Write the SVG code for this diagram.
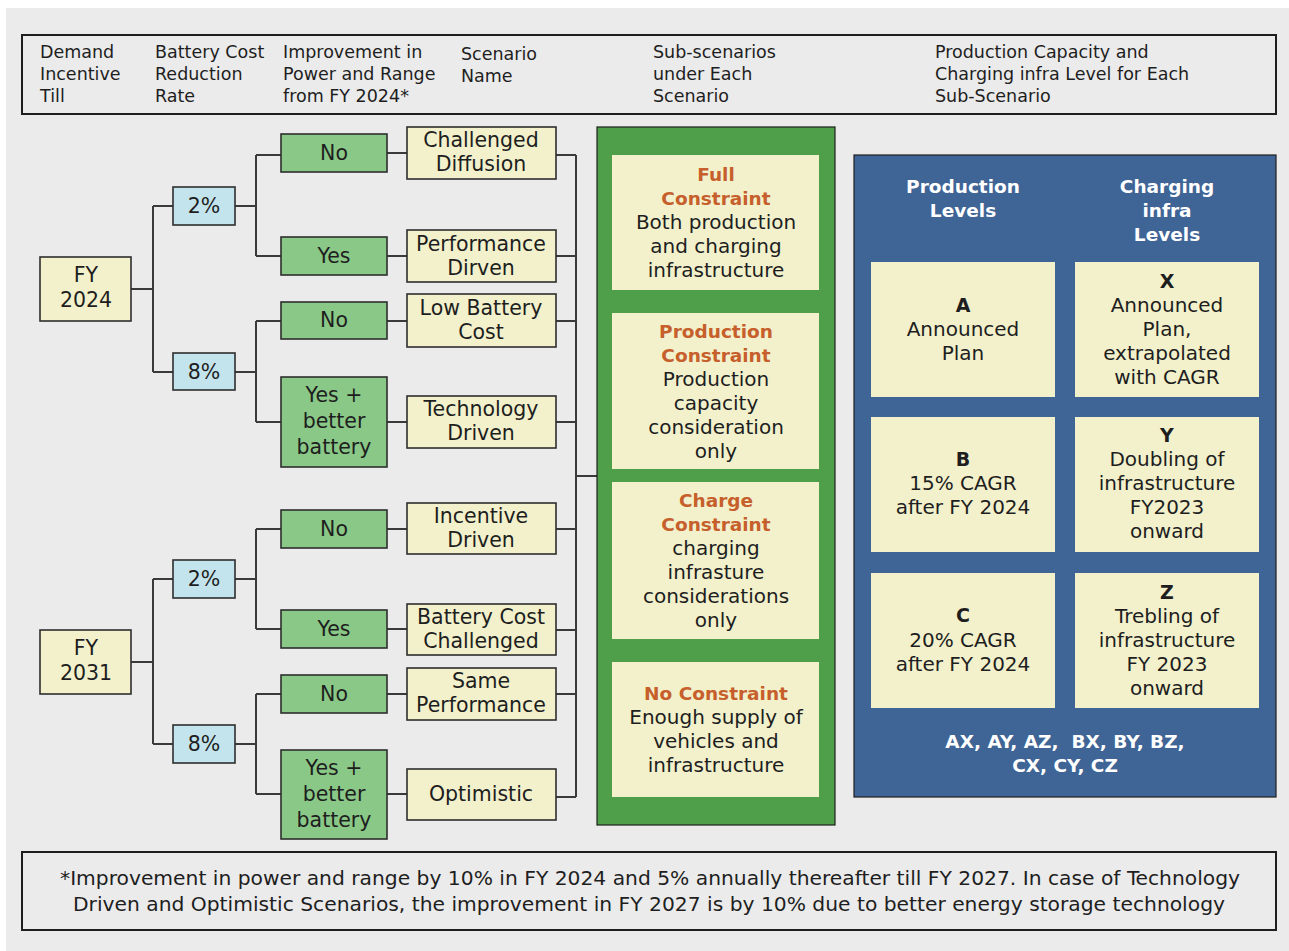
<svg xmlns="http://www.w3.org/2000/svg" width="1289" height="951" viewBox="0 0 1289 951">
<style>
text{font-family:"DejaVu Sans","Liberation Sans",sans-serif;fill:#1e1e1e}
.hd{font-size:17.5px}
.t{font-size:20.5px;text-anchor:middle}
.p{font-size:20px;text-anchor:middle}
.o{font-size:18.5px;text-anchor:middle;font-weight:bold;fill:#c65f2b}
.w{font-size:18.5px;text-anchor:middle;font-weight:bold;fill:#ffffff}
.b{font-weight:bold;font-size:19px}
.fy{fill:#f2f1cc;stroke:#2e2e2e;stroke-width:1.6}
.bl{fill:#c3e4ec;stroke:#2e2e2e;stroke-width:1.6}
.gr{fill:#8ac887;stroke:#2e2e2e;stroke-width:1.6}
.sc{fill:#f2f1cc;stroke:#2e2e2e;stroke-width:1.6}
.in{fill:#f2f1cc}
.frame{fill:none;stroke:#1e1e1e;stroke-width:2}
.ft{font-family:"DejaVu Sans Condensed","DejaVu Sans",sans-serif;font-size:19px;text-anchor:middle}
</style>
<rect x="6" y="8" width="1283" height="943" fill="#ebebeb"/>
<g id="header">
<rect class="frame" x="22" y="35" width="1254" height="79"/>
<text class="hd"><tspan x="40" y="58">Demand</tspan><tspan x="40" y="80">Incentive</tspan><tspan x="40" y="102">Till</tspan></text>
<text class="hd"><tspan x="155" y="58">Battery Cost</tspan><tspan x="155" y="80">Reduction</tspan><tspan x="155" y="102">Rate</tspan></text>
<text class="hd"><tspan x="283" y="58">Improvement in</tspan><tspan x="283" y="80">Power and Range</tspan><tspan x="283" y="102">from FY 2024*</tspan></text>
<text class="hd"><tspan x="461" y="60">Scenario</tspan><tspan x="461" y="82">Name</tspan></text>
<text class="hd"><tspan x="653" y="58">Sub-scenarios</tspan><tspan x="653" y="80">under Each</tspan><tspan x="653" y="102">Scenario</tspan></text>
<text class="hd"><tspan x="935" y="58">Production Capacity and</tspan><tspan x="935" y="80">Charging infra Level for Each</tspan><tspan x="935" y="102">Sub-Scenario</tspan></text>
</g>
<g id="connectors" fill="none" stroke="#3a3a3a" stroke-width="2">
<path d="M131,289H153M153,206V372M153,206H173M153,372H173"/>
<path d="M235,206H256M256,155V256M256,155H281M256,256H281"/>
<path d="M235,372H256M256,321V422M256,321H281M256,422H281"/>
<path d="M387,153H407M387,256H407M387,321H407M387,422H407"/>
<path d="M556,155H576M556,256H576M556,321H576M556,422H576"/>
<path d="M131,662H153M153,579V744M153,579H173M153,744H173"/>
<path d="M235,579H256M256,529V629M256,529H281M256,629H281"/>
<path d="M235,744H256M256,694V794M256,694H281M256,794H281"/>
<path d="M387,529H407M387,629H407M387,694H407M387,794H407"/>
<path d="M556,529H576M556,630H576M556,694H576M556,797H576"/>
<path d="M576,155V797M576,476H597"/>
</g>
<g id="fy2024"><rect class="fy" x="40" y="257" width="91" height="64"/><text class="t"><tspan x="86" y="282">FY</tspan><tspan x="86" y="307">2024</tspan></text></g>
<g id="r2a"><rect class="bl" x="173" y="187" width="62" height="38"/><text class="t" x="204" y="213">2%</text></g>
<g id="r8a"><rect class="bl" x="173" y="353" width="62" height="37"/><text class="t" x="204" y="379">8%</text></g>
<g id="noA"><rect class="gr" x="281" y="134" width="106" height="38"/><text class="t" x="334" y="160">No</text></g>
<g id="yesA"><rect class="gr" x="281" y="237" width="106" height="38"/><text class="t" x="334" y="263">Yes</text></g>
<g id="noB"><rect class="gr" x="281" y="302" width="106" height="37"/><text class="t" x="334" y="327">No</text></g>
<g id="ybbA"><rect class="gr" x="281" y="377" width="106" height="90"/><text class="t"><tspan x="334" y="402">Yes +</tspan><tspan x="334" y="428">better</tspan><tspan x="334" y="454">battery</tspan></text></g>
<g id="sc-cd"><rect class="sc" x="407" y="127" width="149" height="52"/><text class="t"><tspan x="481" y="147">Challenged</tspan><tspan x="481" y="171">Diffusion</tspan></text></g>
<g id="sc-pd"><rect class="sc" x="407" y="230" width="149" height="52"/><text class="t"><tspan x="481" y="251">Performance</tspan><tspan x="481" y="275">Dirven</tspan></text></g>
<g id="sc-lbc"><rect class="sc" x="407" y="294" width="149" height="53"/><text class="t"><tspan x="481" y="315">Low Battery</tspan><tspan x="481" y="339">Cost</tspan></text></g>
<g id="sc-td"><rect class="sc" x="407" y="396" width="149" height="52"/><text class="t"><tspan x="481" y="416">Technology</tspan><tspan x="481" y="440">Driven</tspan></text></g>
<g id="fy2031"><rect class="fy" x="40" y="630" width="91" height="64"/><text class="t"><tspan x="86" y="655">FY</tspan><tspan x="86" y="680">2031</tspan></text></g>
<g id="r2b"><rect class="bl" x="173" y="560" width="62" height="38"/><text class="t" x="204" y="586">2%</text></g>
<g id="r8b"><rect class="bl" x="173" y="725" width="62" height="38"/><text class="t" x="204" y="751">8%</text></g>
<g id="noC"><rect class="gr" x="281" y="510" width="106" height="38"/><text class="t" x="334" y="536">No</text></g>
<g id="yesC"><rect class="gr" x="281" y="610" width="106" height="38"/><text class="t" x="334" y="636">Yes</text></g>
<g id="noD"><rect class="gr" x="281" y="675" width="106" height="38"/><text class="t" x="334" y="701">No</text></g>
<g id="ybbB"><rect class="gr" x="281" y="750" width="106" height="89"/><text class="t"><tspan x="334" y="775">Yes +</tspan><tspan x="334" y="801">better</tspan><tspan x="334" y="827">battery</tspan></text></g>
<g id="sc-id"><rect class="sc" x="407" y="503" width="149" height="51"/><text class="t"><tspan x="481" y="523">Incentive</tspan><tspan x="481" y="547">Driven</tspan></text></g>
<g id="sc-bcc"><rect class="sc" x="407" y="604" width="149" height="51"/><text class="t"><tspan x="481" y="624">Battery Cost</tspan><tspan x="481" y="648">Challenged</tspan></text></g>
<g id="sc-sp"><rect class="sc" x="407" y="668" width="149" height="52"/><text class="t"><tspan x="481" y="688">Same</tspan><tspan x="481" y="712">Performance</tspan></text></g>
<g id="sc-opt"><rect class="sc" x="407" y="769" width="149" height="51"/><text class="t" x="481" y="801">Optimistic</text></g>
<g id="subscenarios">
<rect x="597" y="127" width="238" height="698" fill="#4e9e4a" stroke="#1e1e1e" stroke-width="1.2"/>
<rect class="in" x="612" y="155" width="207" height="135"/>
<text><tspan class="o" x="716" y="181">Full</tspan><tspan class="o" x="716" y="205">Constraint</tspan><tspan class="p" x="716" y="229">Both production</tspan><tspan class="p" x="716" y="253">and charging</tspan><tspan class="p" x="716" y="277">infrastructure</tspan></text>
<rect class="in" x="612" y="313" width="207" height="156"/>
<text><tspan class="o" x="716" y="338">Production</tspan><tspan class="o" x="716" y="362">Constraint</tspan><tspan class="p" x="716" y="386">Production</tspan><tspan class="p" x="716" y="410">capacity</tspan><tspan class="p" x="716" y="434">consideration</tspan><tspan class="p" x="716" y="458">only</tspan></text>
<rect class="in" x="612" y="482" width="207" height="157"/>
<text><tspan class="o" x="716" y="507">Charge</tspan><tspan class="o" x="716" y="531">Constraint</tspan><tspan class="p" x="716" y="555">charging</tspan><tspan class="p" x="716" y="579">infrasture</tspan><tspan class="p" x="716" y="603">considerations</tspan><tspan class="p" x="716" y="627">only</tspan></text>
<rect class="in" x="612" y="662" width="207" height="135"/>
<text><tspan class="o" x="716" y="700">No Constraint</tspan><tspan class="p" x="716" y="724">Enough supply of</tspan><tspan class="p" x="716" y="748">vehicles and</tspan><tspan class="p" x="716" y="772">infrastructure</tspan></text>
</g>
<g id="levels">
<rect x="854" y="155" width="422" height="642" fill="#3f6496" stroke="#1e1e1e" stroke-width="1.2"/>
<text><tspan class="w" x="963" y="193">Production</tspan><tspan class="w" x="963" y="217">Levels</tspan></text>
<text><tspan class="w" x="1167" y="193">Charging</tspan><tspan class="w" x="1167" y="217">infra</tspan><tspan class="w" x="1167" y="241">Levels</tspan></text>
<rect class="in" x="871" y="262" width="184" height="135"/>
<text class="p"><tspan class="b" x="963" y="312">A</tspan><tspan x="963" y="336">Announced</tspan><tspan x="963" y="360">Plan</tspan></text>
<rect class="in" x="1075" y="262" width="184" height="135"/>
<text class="p"><tspan class="b" x="1167" y="288">X</tspan><tspan x="1167" y="312">Announced</tspan><tspan x="1167" y="336">Plan,</tspan><tspan x="1167" y="360">extrapolated</tspan><tspan x="1167" y="384">with CAGR</tspan></text>
<rect class="in" x="871" y="417" width="184" height="135"/>
<text class="p"><tspan class="b" x="963" y="466">B</tspan><tspan x="963" y="490">15% CAGR</tspan><tspan x="963" y="514">after FY 2024</tspan></text>
<rect class="in" x="1075" y="417" width="184" height="135"/>
<text class="p"><tspan class="b" x="1167" y="442">Y</tspan><tspan x="1167" y="466">Doubling of</tspan><tspan x="1167" y="490">infrastructure</tspan><tspan x="1167" y="514">FY2023</tspan><tspan x="1167" y="538">onward</tspan></text>
<rect class="in" x="871" y="573" width="184" height="135"/>
<text class="p"><tspan class="b" x="963" y="622">C</tspan><tspan x="963" y="647">20% CAGR</tspan><tspan x="963" y="671">after FY 2024</tspan></text>
<rect class="in" x="1075" y="573" width="184" height="135"/>
<text class="p"><tspan class="b" x="1167" y="599">Z</tspan><tspan x="1167" y="623">Trebling of</tspan><tspan x="1167" y="647">infrastructure</tspan><tspan x="1167" y="671">FY 2023</tspan><tspan x="1167" y="695">onward</tspan></text>
<text><tspan class="w" x="1065" y="748" xml:space="preserve">AX, AY, AZ,  BX, BY, BZ,</tspan><tspan class="w" x="1065" y="772">CX, CY, CZ</tspan></text>
</g>
<g id="footer">
<rect class="frame" x="22" y="852" width="1254" height="78"/>
<text class="ft" x="650" y="885" textLength="1180" lengthAdjust="spacingAndGlyphs">*Improvement in power and range by 10% in FY 2024 and 5% annually thereafter till FY 2027. In case of Technology</text>
<text class="ft" x="649" y="911" textLength="1152" lengthAdjust="spacingAndGlyphs">Driven and Optimistic Scenarios, the improvement in FY 2027 is by 10% due to better energy storage technology</text>
</g>
</svg>
